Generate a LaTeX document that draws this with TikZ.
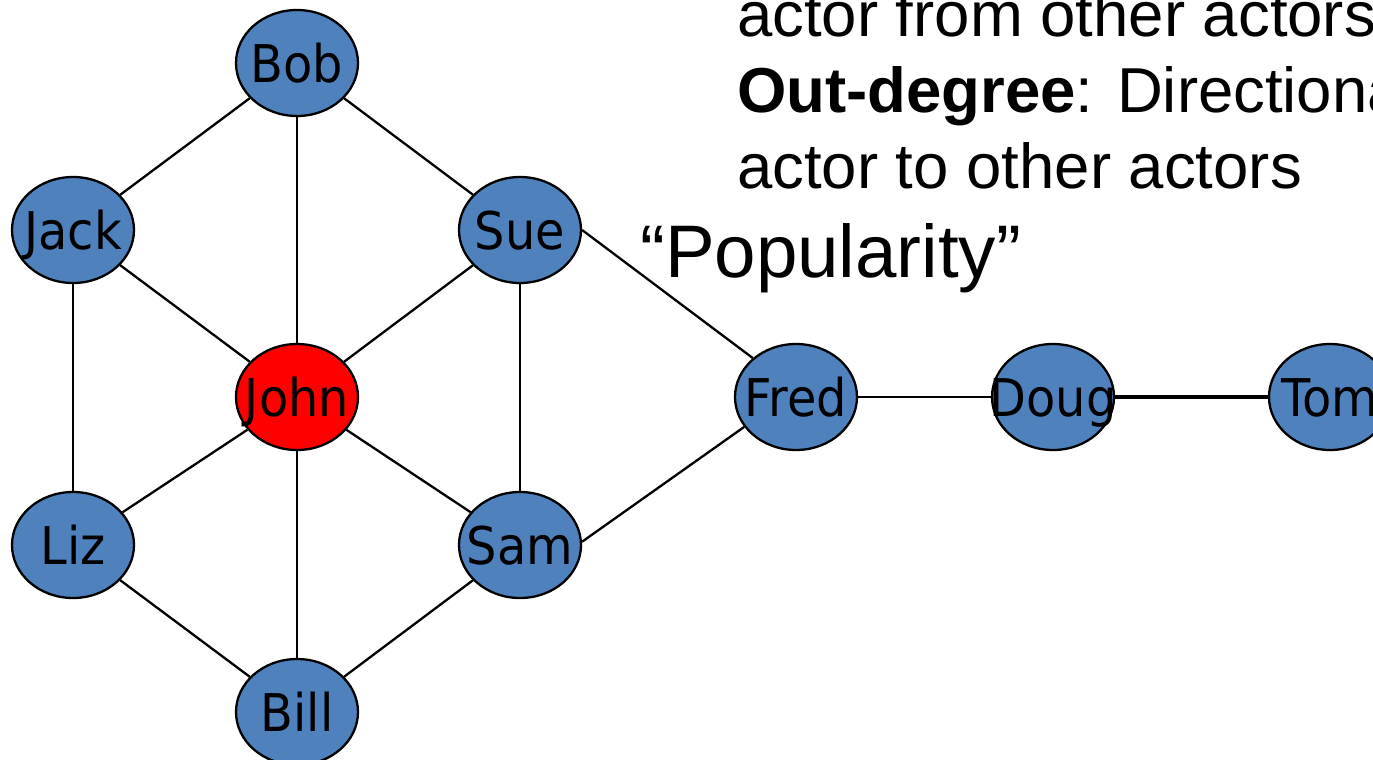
\documentclass[tikz,border=0pt]{standalone}
\usepackage{fontspec}
\setmainfont{Liberation Sans}
\newfontfamily\nodefont{DejaVu Sans}[FakeStretch=0.92]
\usetikzlibrary{shapes.geometric}
\definecolor{actorblue}{HTML}{4F81BD}
\definecolor{actorred}{HTML}{FF0000}
\newcommand\nm[1]{\makebox[0pt]{#1}}
\tikzset{
  actor/.style={ellipse, draw=black, line width=2.3pt, fill=actorblue,
    minimum width=122pt, minimum height=106pt, inner sep=0pt,
    font=\nodefont\fontsize{52}{52}\selectfont, text height=38pt, text depth=0pt},
  focal/.style={actor, fill=actorred},
  tie/.style={draw=black, line width=2.3pt},
  bigtie/.style={draw=black, line width=3.2pt},
  body/.style={anchor=base west, inner sep=0pt, font=\fontsize{63.5}{63.5}\selectfont},
  pop/.style={anchor=base west, inner sep=0pt, font=\fontsize{74.5}{74.5}\selectfont}
}
\begin{document}
\begin{tikzpicture}[x=1pt,y=-1pt]
\useasboundingbox (0,0) rectangle (1373,760);
\clip (0,0) rectangle (1373,760);
\fill[white] (0,0) rectangle (1373,760);
% nodes
\node[actor] (bob)  at (297,63)  {\nm{Bob}};
\node[actor] (jack) at (73,230)  {\nm{Jack}};
\node[actor] (sue)  at (520,230) {\nm{Sue}};
\node[focal] (john) at (297,397) {\nm{John}};
\node[actor] (liz)  at (73,545)  {\nm{Liz}};
\node[actor] (sam)  at (520,545) {\nm{Sam}};
\node[actor] (bill) at (297,712) {\nm{Bill}};
\node[actor] (fred) at (796,397) {\nm{Fred}};
\node[actor] (doug) at (1053,397) {\nm{Doug}};
\node[actor] (tom)  at (1330,397) {\nm{Tom}};
% ties
\draw[tie] (bob) -- (jack);
\draw[tie] (bob) -- (john);
\draw[tie] (bob) -- (sue);
\draw[tie] (jack) -- (john);
\draw[tie] (jack) -- (liz);
\draw[tie] (sue) -- (john);
\draw[tie] (sue) -- (sam);
\draw[tie] (sue.east) -- (fred.138);
\draw[tie] (john) -- (liz);
\draw[tie] (john) -- (sam);
\draw[tie] (john) -- (bill);
\draw[tie] (liz) -- (bill);
\draw[tie] (sam) -- (bill);
\draw[tie] (sam.3) -- (fred.210);
\draw[tie] (fred) -- (doug);
\draw[bigtie] (doug) -- (tom);
% text
\node[body] (t1) at (737,37)  {actor from other actors};
\node[body] (t2) at (737,112) {\textbf{Out-degree}: Directional};
\node[body] (t3) at (737,188) {actor to other actors};
\node[pop]  (t4) at (640,277) {“Popularity”};
\end{tikzpicture}
\end{document}
